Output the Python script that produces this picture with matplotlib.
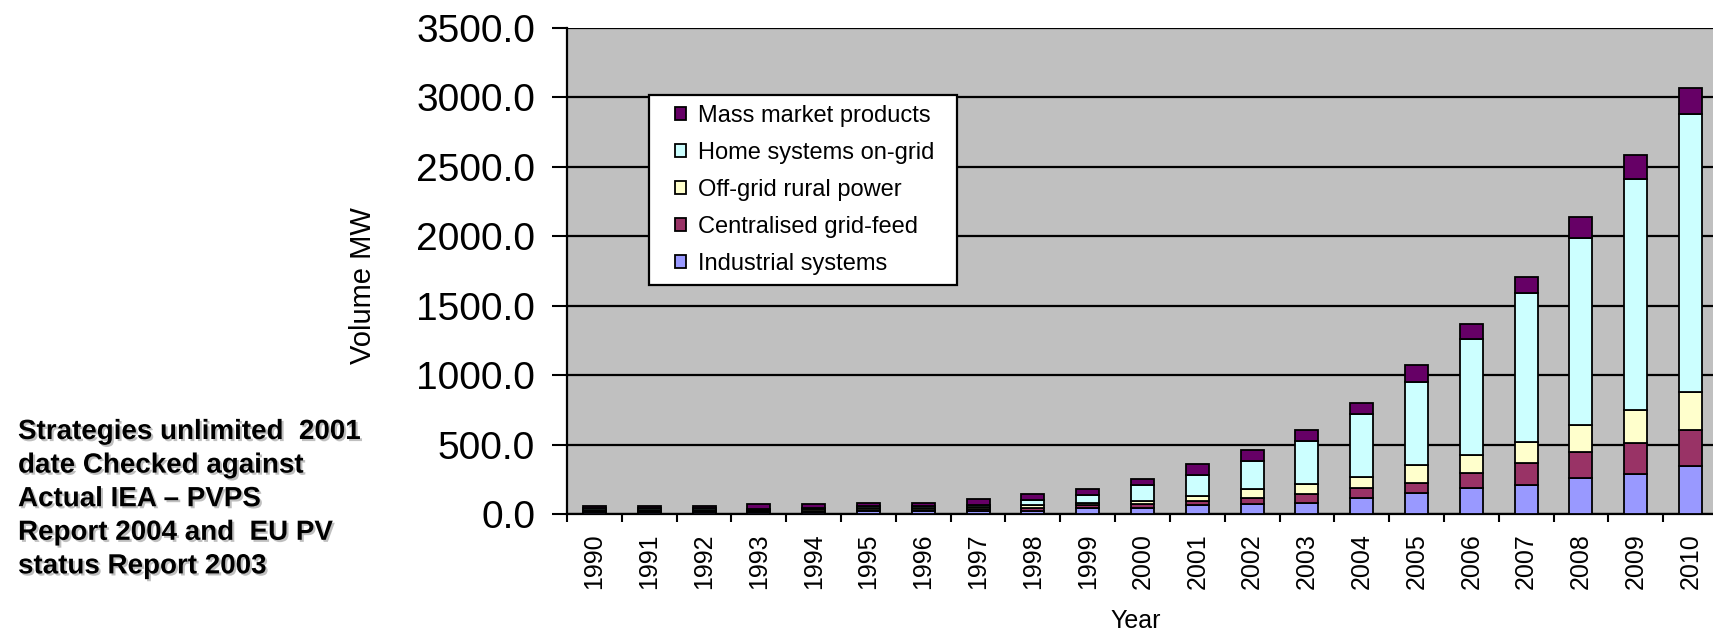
import matplotlib
matplotlib.use("Agg")
import matplotlib.pyplot as plt
import matplotlib.patheffects as pe
from matplotlib.patches import Rectangle
import numpy as np

plt.rcParams["font.family"] = ["Liberation Sans", "DejaVu Sans"]

# ---------------------------------------------------------------------------
# Data (MW per year)
# ---------------------------------------------------------------------------
years = [str(y) for y in range(1990, 2011)]

industrial  = [12, 12, 12, 12, 14, 20, 20, 25, 25, 44, 44, 68, 70, 80, 117, 153, 184, 209, 257, 291, 347]
centralised = [8, 8, 8, 8, 10, 12, 12, 10, 20, 20, 25, 24, 47, 61, 72, 73, 110, 157, 187, 219, 255]
off_grid    = [12, 12, 12, 10, 12, 12, 12, 15, 20, 12, 24, 37, 65, 73, 78, 126, 131, 151, 194, 238, 279]
home_grid   = [8, 8, 8, 8, 10, 12, 12, 15, 35, 61, 117, 154, 201, 315, 456, 602, 832, 1075, 1347, 1667, 1997]
mass_market = [16, 16, 16, 35, 24, 20, 20, 45, 46, 41, 41, 78, 78, 78, 78, 116, 114, 114, 153, 170, 187]

series = [
    ("Industrial systems",      industrial,  "#9999FF"),
    ("Centralised grid-feed",   centralised, "#993366"),
    ("Off-grid rural power",    off_grid,    "#FFFFCC"),
    ("Home systems on-grid",    home_grid,   "#CCFFFF"),
    ("Mass market products",    mass_market, "#660066"),
]

note = ("Strategies unlimited  2001\n"
        "date Checked against\n"
        "Actual IEA \u2013 PVPS\n"
        "Report 2004 and  EU PV\n"
        "status Report 2003")

W, H = 1713, 637

# ---------------------------------------------------------------------------
# Plot
# ---------------------------------------------------------------------------
fig = plt.figure(figsize=(W / 100, H / 100), dpi=100)
ax = fig.add_axes([567 / W, 1 - 514 / H, 1151 / W, 486 / H])
ax.set_facecolor("#C0C0C0")

x = np.arange(len(years))
bottom = np.zeros(len(years))
handles = []
for label, vals, color in series:
    bars = ax.bar(x, vals, width=0.42, bottom=bottom, color=color,
                  edgecolor="black", linewidth=1.3, label=label, zorder=3)
    bottom += np.array(vals)
    handles.append(bars)

ax.set_xlim(-0.5, len(years) - 0.5)
ax.set_ylim(0, 3500)
ax.set_yticks(np.arange(0, 3501, 500))
ax.set_yticklabels([f"{v:.1f}" for v in np.arange(0, 3501, 500)], fontsize=28)
ax.yaxis.grid(True, color="black", linewidth=1.6, zorder=1)
ax.set_axisbelow(True)

ax.set_xticks(x)
ax.set_xticklabels(years, rotation=90, fontsize=18)
ax.set_xticks(np.arange(len(years) + 1) - 0.5, minor=True)
ax.tick_params(axis="x", which="major", length=0, pad=14)
ax.tick_params(axis="x", which="minor", length=6, width=1.5, direction="out")
ax.tick_params(axis="y", length=11, width=1.5, direction="out", pad=12)

for side in ["top", "right"]:
    ax.spines[side].set_visible(False)
for side in ["left", "bottom"]:
    ax.spines[side].set_linewidth(1.6)

ax.set_ylabel("Volume MW", fontsize=21)
ax.yaxis.set_label_coords(-0.165, 0.47)
ax.set_xlabel("Year", fontsize=18)
ax.xaxis.set_label_coords(0.494, -0.195)

# legend box, drawn as a plain white frame with the entries placed inside
box_x0, box_x1 = (649 - 567) / 1151, (957 - 567) / 1151
box_y1, box_y0 = (514 - 95) / 486, (514 - 285) / 486
ax.add_patch(Rectangle((box_x0, box_y0), box_x1 - box_x0, box_y1 - box_y0,
                       transform=ax.transAxes, facecolor="white",
                       edgecolor="black", linewidth=1.6, zorder=4))

leg_fs = 17
target_pitch = 37.0
labelspacing = 0.42


def make_legend(spacing):
    return ax.legend(handles[::-1], [s[0] for s in series][::-1],
                     loc="center left",
                     bbox_to_anchor=(box_x0 + 26 / 1151, (box_y0 + box_y1) / 2),
                     borderaxespad=0, borderpad=0, fontsize=leg_fs,
                     frameon=False, handlelength=0.48, handleheight=0.48,
                     handletextpad=0.5, labelspacing=spacing)


leg = make_legend(labelspacing)
fig.canvas.draw()
ys = [t.get_window_extent().y0 for t in leg.get_texts()]
pitch = (ys[0] - ys[-1]) / (len(ys) - 1)
labelspacing += (target_pitch - pitch) / (leg_fs * 100 / 72)
leg.remove()
leg = make_legend(labelspacing)
leg.set_zorder(6)

fig.text(18 / W, 1 - 419 / H, note, fontsize=20, fontweight="bold",
         va="top", ha="left", linespacing=1.38,
         path_effects=[pe.withSimplePatchShadow(offset=(1.5, -1.5),
                                                shadow_rgbFace="gray", alpha=0.5)])

fig.savefig("out.png", dpi=100)
